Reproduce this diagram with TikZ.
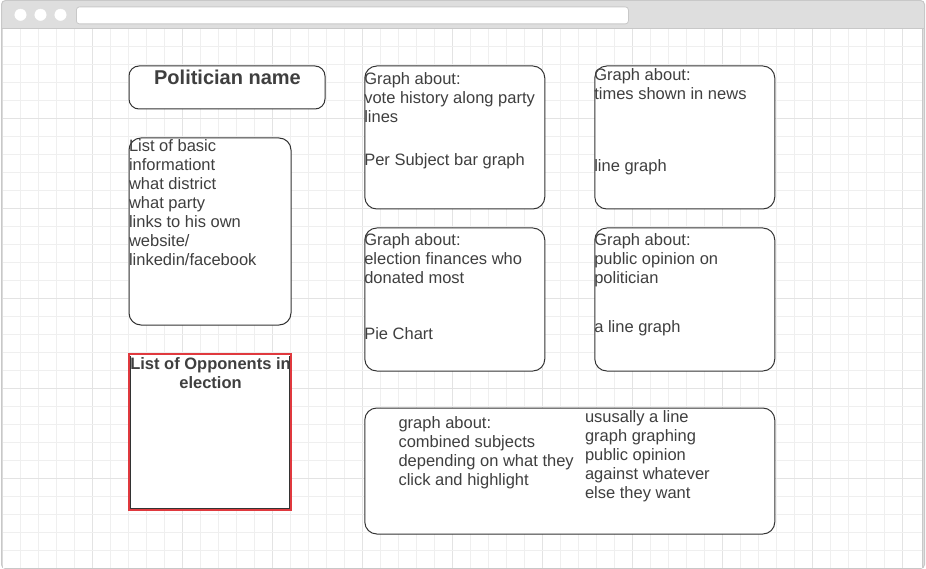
\documentclass[tikz,border=0pt]{standalone}
\usepackage{fontspec}
\setmainfont{Liberation Sans}
\definecolor{textc}{HTML}{3F3F3F}
\definecolor{linec}{HTML}{333333}
\definecolor{chromebg}{HTML}{DEDEDE}
\definecolor{chromeline}{HTML}{C8C8C8}
\definecolor{gridminor}{HTML}{EFEFEF}
\definecolor{gridmajor}{HTML}{E3E3E3}
\definecolor{selred}{HTML}{E0393E}
\begin{document}
\begin{tikzpicture}[x=1pt,y=-1pt,
  box/.style={draw=linec,line width=1pt,rounded corners=12pt,fill=white},
  txt/.style={anchor=base west,inner sep=0pt,outer sep=0pt,text=textc,font=\fontsize{16.5}{19}\selectfont},
  btxt/.style={anchor=base,inner sep=0pt,outer sep=0pt,text=textc,font=\fontsize{16.5}{19}\selectfont\bfseries}]
\useasboundingbox (0,0) rectangle (926,569);
% window chrome
\fill[chromebg,draw=chromeline,line width=1pt,rounded corners=4pt] (1.5,0.5) rectangle (924.5,568.5);
\fill[white] (3,29.5) rectangle (922.5,567.5);
\foreach \i in {1,...,50}{
  \pgfmathsetmacro{\xx}{2.5+18*\i}
  \ifnum\numexpr\i-5*(\i/5)\relax=0
    \draw[gridmajor,line width=1pt] (\xx,29.5) -- (\xx,567.5);
  \else
    \draw[gridminor,line width=1pt] (\xx,29.5) -- (\xx,567.5);
  \fi}
\foreach \j in {1,...,29}{
  \pgfmathsetmacro{\yy}{28.5+18*\j}
  \ifnum\numexpr\j-5*(\j/5)\relax=0
    \draw[gridmajor,line width=1pt] (3,\yy) -- (922.5,\yy);
  \else
    \draw[gridminor,line width=1pt] (3,\yy) -- (922.5,\yy);
  \fi}
\draw[chromeline,line width=1pt] (2,29) -- (923.5,29);
\draw[chromeline,line width=1pt] (922.8,29) -- (922.8,568);
\foreach \cx/\nm in {20.5/c1,40.5/c2,60.5/c3}{
  \node[circle,fill=white,draw=white,minimum size=11.5pt,inner sep=0pt] (\nm) at (\cx,14.8) {};}
\node[draw=chromeline,fill=white,rounded corners=3pt,line width=0.8pt,anchor=north west,minimum width=552pt,minimum height=17pt,inner sep=0pt] (addr) at (76,6.5) {};
% boxes
\node[box,rounded corners=10pt,anchor=north west,minimum width=196pt,minimum height=43pt,inner sep=0pt] (pname) at (128.5,65.5) {};
\node[btxt,font=\fontsize{20}{24}\selectfont\bfseries] (pnameT) at (227.5,84.5) {Politician name};
\node[box,anchor=north west,minimum width=162pt,minimum height=187pt,inner sep=0pt] (info) at (128.5,137.5) {};
\node[txt] (i1) at (129,152) {List of basic};
\node[txt] (i2) at (129,171) {informationt};
\node[txt] (i3) at (129,190) {what district};
\node[txt] (i4) at (129,209) {what party};
\node[txt] (i5) at (129,228) {links to his own};
\node[txt] (i6) at (129,247) {website/};
\node[txt] (i7) at (129,266) {linkedin/facebook};
% opponents
\node[fill=white,anchor=north west,minimum width=162pt,minimum height=156pt,inner sep=0pt,outer sep=0pt] (opp) at (129,354) {};
\draw[selred,line width=2pt] (opp.north west) rectangle (opp.south east);
\draw[linec,line width=0.9pt] ([xshift=1.2pt,yshift=-1.5pt]opp.north west) -- ([xshift=1.2pt,yshift=1.2pt]opp.south west) -- ([xshift=-1.2pt,yshift=1.2pt]opp.south east) -- ([xshift=-1.2pt,yshift=-1.5pt]opp.north east);
\node[btxt] (o1) at (210.5,369) {List of Opponents in};
\node[btxt] (o2) at (210.5,388) {election};
% graph boxes
\node[box,anchor=north west,minimum width=180pt,minimum height=143pt,inner sep=0pt] (ga) at (364.3,65.5) {};
\node[txt] (a1) at (364.3,84.5) {Graph about:};
\node[txt] (a2) at (364.3,103.5) {vote history along party};
\node[txt] (a3) at (364.3,122.5) {lines};
\node[txt] (a4) at (364.3,166) {Per Subject bar graph};
\node[box,anchor=north west,minimum width=180pt,minimum height=143pt,inner sep=0pt] (gb) at (594.3,65.5) {};
\node[txt] (b1) at (594.3,80.5) {Graph about:};
\node[txt] (b2) at (594.3,99.5) {times shown in news};
\node[txt] (b3) at (594.3,171.5) {line graph};
\node[box,anchor=north west,minimum width=180pt,minimum height=143pt,inner sep=0pt] (gc) at (364.3,227.5) {};
\node[txt] (c1t) at (364.3,245.5) {Graph about:};
\node[txt] (c2t) at (364.3,264.5) {election finances who};
\node[txt] (c3t) at (364.3,283.5) {donated most};
\node[txt] (c4t) at (364.3,339) {Pie Chart};
\node[box,anchor=north west,minimum width=180pt,minimum height=143pt,inner sep=0pt] (gd) at (594.3,227.5) {};
\node[txt] (d1) at (594.3,245.5) {Graph about:};
\node[txt] (d2) at (594.3,264.5) {public opinion on};
\node[txt] (d3) at (594.3,283.5) {politician};
\node[txt] (d4) at (594.3,332) {a line graph};
\node[box,anchor=north west,minimum width=410pt,minimum height=126pt,inner sep=0pt] (ge) at (364.3,407.5) {};
\node[txt] (e1) at (398.5,428.5) {graph about:};
\node[txt] (e2) at (398.5,447.5) {combined subjects};
\node[txt] (e3) at (398.5,466.5) {depending on what they};
\node[txt] (e4) at (398.5,485.5) {click and highlight};
\node[txt] (f1) at (585,422) {ususally a line};
\node[txt] (f2) at (585,441) {graph graphing};
\node[txt] (f3) at (585,460) {public opinion};
\node[txt] (f4) at (585,479) {against whatever};
\node[txt] (f5) at (585,498) {else they want};
\end{tikzpicture}
\end{document}
